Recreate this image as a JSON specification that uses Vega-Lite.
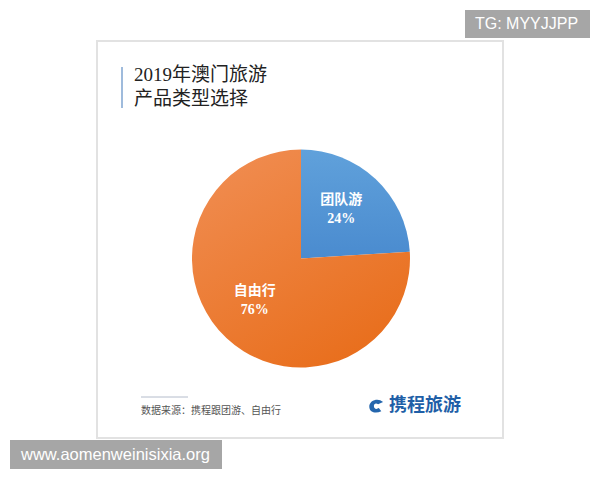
{
  "$schema": "https://vega.github.io/schema/vega-lite/v6.json",
  "width": 406,
  "height": 397,
  "autosize": {"type": "none"},
  "padding": {"left": 97, "top": 41, "right": 97, "bottom": 42},
  "background": "white",
  "view": {"stroke": "#e2e2e2", "strokeWidth": 2, "fill": "white"},
  "title": {
    "text": ["2019年澳门旅游", "产品类型选择"],
    "anchor": "start",
    "frame": "group",
    "orient": "top",
    "offset": -99,
    "dx": 37,
    "baseline": "top",
    "font": "Liberation Serif, Noto Sans CJK SC",
    "fontSize": 19,
    "fontWeight": "normal",
    "color": "#222222",
    "lineHeight": 24
  },
  "data": {
    "values": [
      {"type": "团队游", "share": 24, "label": "24%", "order": 1},
      {"type": "自由行", "share": 76, "label": "76%", "order": 2}
    ]
  },
  "layer": [
    {
      "mark": {"type": "arc", "radius": 109, "xOffset": 1, "yOffset": 19},
      "encoding": {
        "theta": {"field": "share", "type": "quantitative", "stack": true},
        "order": {"field": "order", "type": "quantitative"},
        "color": {
          "condition": {
            "test": "datum.type === '团队游'",
            "value": {"gradient": "linear", "x1": 0, "y1": 0, "x2": 0, "y2": 1,
              "stops": [{"offset": 0, "color": "#60a1db"}, {"offset": 1, "color": "#4a8bcf"}]}
          },
          "value": {"gradient": "linear", "x1": 0.2, "y1": 0, "x2": 0.8, "y2": 1,
            "stops": [{"offset": 0, "color": "#f08c50"}, {"offset": 1, "color": "#e86d1a"}]}
        }
      }
    },
    {
      "mark": {"type": "text", "radius": 63, "dx": -2, "dy": 6, "fill": "white",
        "font": "Liberation Serif, Noto Sans CJK SC", "fontSize": 14, "fontWeight": "bold", "baseline": "middle"},
      "encoding": {
        "theta": {"field": "share", "type": "quantitative", "stack": true},
        "order": {"field": "order", "type": "quantitative"},
        "text": {"field": "type"}
      }
    },
    {
      "mark": {"type": "text", "radius": 63, "dx": -2, "dy": 25, "fill": "white",
        "font": "Liberation Serif, Noto Sans CJK SC", "fontSize": 14, "fontWeight": "bold", "baseline": "middle"},
      "encoding": {
        "theta": {"field": "share", "type": "quantitative", "stack": true},
        "order": {"field": "order", "type": "quantitative"},
        "text": {"field": "label"}
      }
    },
    {
      "data": {"values": [{}]},
      "mark": {"type": "rule", "color": "#9fbbdc", "strokeWidth": 2},
      "encoding": {"x": {"value": 25}, "y": {"value": 26}, "y2": {"value": 67}}
    },
    {
      "data": {"values": [{}]},
      "mark": {"type": "rule", "color": "#b4bccb", "strokeWidth": 1},
      "encoding": {"x": {"value": 44}, "x2": {"value": 91}, "y": {"value": 356}}
    },
    {
      "data": {"values": [{}]},
      "mark": {"type": "text", "text": "数据来源：携程跟团游、自由行", "align": "left", "baseline": "middle",
        "font": "Liberation Serif, Noto Sans CJK SC", "fontSize": 10, "fill": "#555555"},
      "encoding": {"x": {"value": 44}, "y": {"value": 370}}
    },
    {
      "data": {"values": [{}]},
      "mark": {"type": "point", "filled": true, "size": 200, "color": "#2466ad", "opacity": 1,
        "shape": "M0.6,-0.8 C0,-1.05 -1,-0.7 -0.95,0.15 C-0.9,0.95 0,1.1 0.75,0.75 L0.4,0.3 C0,0.55 -0.3,0.35 -0.3,0 C-0.3,-0.35 0,-0.45 0.3,-0.25 L1,-0.55 Z"},
      "encoding": {"x": {"value": 279}, "y": {"value": 365}}
    },
    {
      "data": {"values": [{}]},
      "mark": {"type": "text", "text": "携程旅游", "align": "left", "baseline": "middle",
        "font": "Noto Sans CJK SC", "fontSize": 18, "fontWeight": "bold", "fill": "#1f5fa7"},
      "encoding": {"x": {"value": 292}, "y": {"value": 365}}
    },
    {
      "data": {"values": [{}]},
      "mark": {"type": "rect", "color": "#a6a6a6"},
      "encoding": {"x": {"value": 368}, "x2": {"value": 493}, "y": {"value": -31}, "y2": {"value": -3}}
    },
    {
      "data": {"values": [{}]},
      "mark": {"type": "text", "text": "TG: MYYJJPP", "align": "left", "baseline": "middle",
        "font": "Liberation Sans", "fontSize": 16, "fill": "white"},
      "encoding": {"x": {"value": 378}, "y": {"value": -17}}
    },
    {
      "data": {"values": [{}]},
      "mark": {"type": "rect", "color": "#a6a6a6"},
      "encoding": {"x": {"value": -87}, "x2": {"value": 125}, "y": {"value": 399}, "y2": {"value": 428}}
    },
    {
      "data": {"values": [{}]},
      "mark": {"type": "text", "text": "www.aomenweinisixia.org", "align": "left", "baseline": "middle",
        "font": "Liberation Sans", "fontSize": 16.5, "fill": "white"},
      "encoding": {"x": {"value": -76}, "y": {"value": 414}}
    }
  ]
}
